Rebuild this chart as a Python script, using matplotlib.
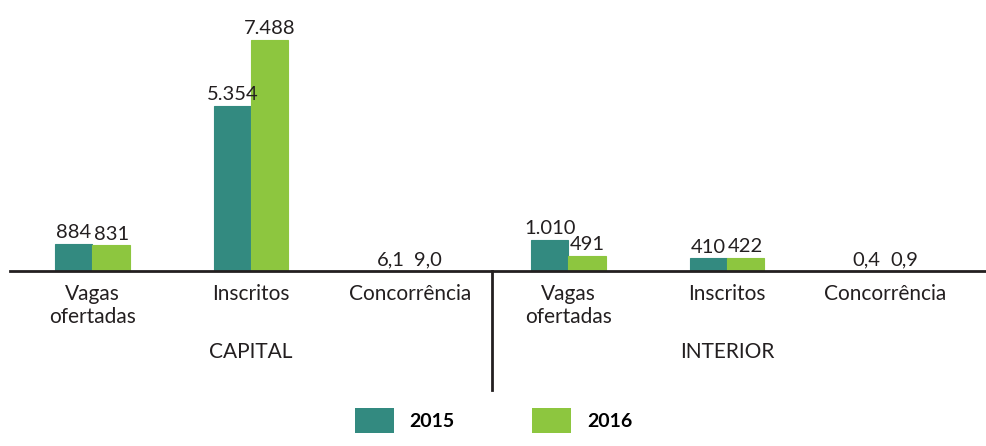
import matplotlib.pyplot as plt
import numpy as np
from matplotlib.patches import Patch

plt.rcParams["font.family"] = ["Lato", "DejaVu Sans"]

TEAL = "#338A80"
GREEN = "#8DC63F"
INK = "#231F20"

categories = ["Vagas\nofertadas", "Inscritos", "Concorrência",
              "Vagas\nofertadas", "Inscritos", "Concorrência"]
groups = ["CAPITAL", "INTERIOR"]
years = ["2015", "2016"]
vals_2015 = [884, 5354, 6.1, 1010, 410, 0.4]
vals_2016 = [831, 7488, 9.0, 491, 422, 0.9]
decimals = [0, 0, 1, 0, 0, 1]


def fmt(v, d):
    if d:
        return f"{v:.{d}f}".replace(".", ",")
    return f"{int(v):,}".replace(",", ".")


fig = plt.figure(figsize=(9.87, 4.46), dpi=100)
ax = fig.add_axes([10 / 987, 175 / 446, 977 / 987, 271 / 446])

x = np.arange(len(categories))
w = 0.235
b1 = ax.bar(x - w / 2, vals_2015, w, color=TEAL, edgecolor=TEAL, linewidth=0.8, zorder=2)
b2 = ax.bar(x + w / 2, vals_2016, w, color=GREEN, edgecolor=GREEN, linewidth=0.8, zorder=2)
ax.bar_label(b1, labels=[fmt(v, d) for v, d in zip(vals_2015, decimals)],
             padding=2, fontsize=14.5, color=INK)
ax.bar_label(b2, labels=[fmt(v, d) for v, d in zip(vals_2016, decimals)],
             padding=2, fontsize=14.5, color=INK)

ax.set_xlim(-0.52, 5.64)
ax.set_ylim(0, 7488 * 271 / 231)
for s in ["top", "right", "left"]:
    ax.spines[s].set_visible(False)
ax.spines["bottom"].set_color(INK)
ax.spines["bottom"].set_linewidth(2.0)
ax.set_yticks([])
ax.set_xticks(x)
ax.set_xticklabels(categories, fontsize=15, color=INK, linespacing=1.2)
ax.tick_params(axis="x", length=0, pad=9)

# group divider and group names
ax.plot([2.52, 2.52], [0, -0.44], transform=ax.get_xaxis_transform(),
        color=INK, lw=2, clip_on=False)
for i, g in enumerate(groups):
    ax.text(x[3 * i + 1], -0.30, g, transform=ax.get_xaxis_transform(),
            ha="center", va="center", fontsize=15, color=INK)

handles = [Patch(facecolor=TEAL), Patch(facecolor=GREEN)]
fig.legend(handles, years, loc="lower center", bbox_to_anchor=(0.5, -0.01), ncol=2,
           frameon=False, prop={"size": 14, "weight": "bold"},
           handlelength=2.0, handleheight=1.6, handletextpad=0.8, columnspacing=4.0)

fig.savefig("out.png", dpi=100)
